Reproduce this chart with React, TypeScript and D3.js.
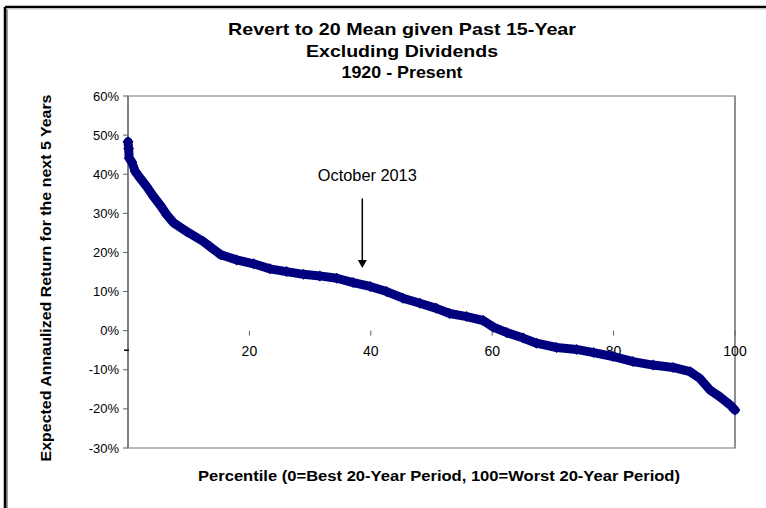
import React from "react";
import * as d3 from "d3";

const titleLines = ["Revert to 20 Mean given Past 15-Year", "Excluding Dividends", "1920 - Present"];
const titleWidths = [348, 192, 121];
const yAxisTitle = "Expected Annaulized Return for the next 5 Years";
const xAxisTitle = "Percentile (0=Best 20-Year Period, 100=Worst 20-Year Period)";
const yTicks = [60, 50, 40, 30, 20, 10, 0, -10, -20, -30];
const xTicks = [20, 40, 60, 80, 100];

const percentiles = [0.0, 0.1, 0.2, 0.6, 1.2, 2.0, 3.1, 4.2, 5.3, 6.4, 7.5, 9.7, 12.4, 13.5, 15.3, 17.9, 20.7, 23.4, 26.1, 28.9, 31.6, 34.4, 37.1, 39.9, 42.6, 45.3, 48.1, 50.8, 53.0, 55.8, 58.5, 60.2, 62.4, 65.1, 67.3, 70.6, 73.9, 76.7, 79.9, 83.2, 86.5, 89.8, 92.6, 94.2, 95.9, 97.5, 99.2, 100];
const returns = [48.3, 46.6, 44.1, 43.2, 40.7, 39.0, 36.8, 34.3, 32.1, 29.6, 27.6, 25.3, 22.8, 21.5, 19.4, 18.1, 17.1, 15.8, 15.1, 14.4, 14.0, 13.4, 12.3, 11.3, 10.0, 8.3, 7.0, 5.7, 4.4, 3.6, 2.6, 0.9, -0.5, -1.9, -3.2, -4.3, -4.8, -5.6, -6.6, -7.9, -8.8, -9.4, -10.5, -12.2, -15.2, -16.9, -19.0, -20.3];

const annotationLabel = "October 2013";
const annotationPercentile = 38.6;
const annotationTop = 33.8;
const annotationTip = 16.0;
const annotationTextY = 39.6;

export default function App() {
  const W = 766, H = 508;
  const left = 128, right = 735, top = 96, bottom = 448;
  const x = d3.scaleLinear().domain([0, 100]).range([left, right]);
  const y = d3.scaleLinear().domain([-30, 60]).range([bottom, top]);
  const pts = percentiles.map((p, i) => [x(p), y(returns[i])] as [number, number]);
  const line = d3.line().curve(d3.curveLinear)(pts) || "";
  const font = "'Liberation Sans', Arial, sans-serif";
  const navy = "#00007f";
  const ax = x(annotationPercentile);
  const diamond = (cx: number, cy: number, r: number) => `M${cx},${cy - r}L${cx + r},${cy}L${cx},${cy + r}L${cx - r},${cy}Z`;

  return (
    <svg width={W} height={H} style={{ position: "absolute", left: 0, top: 0, background: "#fff" }} fontFamily={font}>
      <rect x={0} y={0} width={W} height={H} fill="#fff" />
      {/* outer border */}
      <line x1={7} y1={9} x2={7} y2={H} stroke="#9a9a9a" strokeWidth={2} />
      <line x1={5} y1={7} x2={W} y2={7} stroke="#000" strokeWidth={2.5} />
      <line x1={5} y1={7} x2={5} y2={H} stroke="#000" strokeWidth={2.5} />
      <line x1={7} y1={9} x2={W} y2={9} stroke="#c8c8c8" strokeWidth={1} />

      {/* title */}
      {titleLines.map((t, i) => (
        <text key={i} x={402} y={35 + i * 21.5} textAnchor="middle" fontWeight="bold" fontSize={17} fill="#000"
          textLength={titleWidths[i]} lengthAdjust="spacingAndGlyphs">{t}</text>
      ))}

      {/* plot border */}
      <rect x={left} y={top} width={right - left} height={bottom - top} fill="none" stroke="#a0a0a0" strokeWidth={1.5} />
      <line x1={left} y1={top} x2={left} y2={bottom} stroke="#808080" strokeWidth={2} />
      <line x1={right} y1={top} x2={right} y2={bottom} stroke="#909090" strokeWidth={2} />

      {/* y ticks */}
      {yTicks.map((t) => (
        <g key={t}>
          <line x1={left - 5} x2={left} y1={y(t)} y2={y(t)} stroke="#606060" strokeWidth={1} />
          <text x={119} y={y(t) + 4.5} textAnchor="end" fontSize={13} fill="#000">{`${t}%`}</text>
        </g>
      ))}
      <line x1={left - 4} x2={left + 1} y1={y(-5)} y2={y(-5)} stroke="#000" strokeWidth={1.5} />

      {/* x ticks */}
      {xTicks.map((t) => (
        <g key={t}>
          <line x1={x(t)} x2={x(t)} y1={y(0)} y2={y(0) + 5} stroke="#606060" strokeWidth={1} />
          <text x={x(t)} y={y(0) + 25} textAnchor="middle" fontSize={14} fill="#000">{t}</text>
        </g>
      ))}

      {/* data */}
      <path d={line} fill="none" stroke={navy} strokeWidth={9} strokeLinejoin="round" strokeLinecap="round" />
      {pts.map(([cx, cy], i) => (
        <path key={i} d={diamond(cx, cy, 5.5)} fill={navy} />
      ))}

      {/* annotation */}
      <text x={ax + 5} y={y(annotationTextY) + 5} textAnchor="middle" fontSize={16} fill="#000"
        textLength={99} lengthAdjust="spacingAndGlyphs">{annotationLabel}</text>
      <line x1={ax} x2={ax} y1={y(annotationTop)} y2={y(annotationTip) - 7} stroke="#000" strokeWidth={1.5} />
      <path d={`M${ax - 4.5},${y(annotationTip) - 8}L${ax + 4.5},${y(annotationTip) - 8}L${ax},${y(annotationTip)}Z`} fill="#000" />

      {/* axis titles */}
      <text transform={`translate(51,${(top + bottom) / 2 + 6}) rotate(-90)`} textAnchor="middle" fontWeight="bold" fontSize={14} fill="#000"
        textLength={367} lengthAdjust="spacingAndGlyphs">{yAxisTitle}</text>
      <text x={439} y={481} textAnchor="middle" fontWeight="bold" fontSize={14} fill="#000"
        textLength={482} lengthAdjust="spacingAndGlyphs">{xAxisTitle}</text>
    </svg>
  );
}
